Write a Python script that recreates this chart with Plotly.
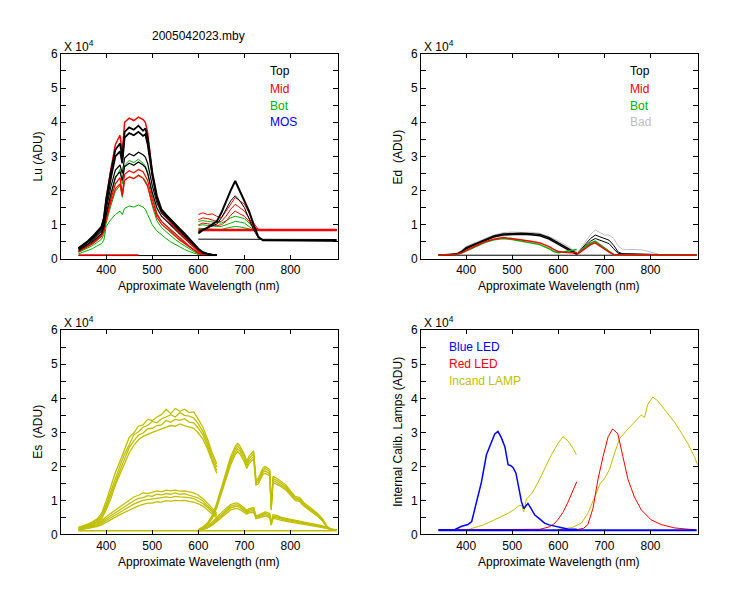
import plotly.graph_objects as go

# ---------------- data (values in units of 1e4 ADU, wavelength in nm) ----------------

# Lu panel, first spectrometer (340-640 nm)
wl_lu_a = [340, 350, 360, 370, 380, 390, 395, 400, 410, 420, 430, 435, 440, 450, 460, 470, 480,
           485, 490, 500, 510, 520, 530, 540, 550, 560, 570, 580, 590, 600, 610, 620, 630, 640]
lu_top_a1 = [0.32, 0.42, 0.52, 0.65, 0.80, 0.95, 1.20, 1.75, 2.55, 3.20, 3.38, 2.95, 3.72, 3.85, 3.78, 3.90, 3.75,
             3.82, 3.55, 2.55, 1.85, 1.45, 1.30, 1.15, 1.00, 0.88, 0.75, 0.60, 0.48, 0.30, 0.20, 0.15, 0.13, 0.12]
lu_top_a2 = [0.30, 0.40, 0.48, 0.60, 0.75, 0.90, 1.10, 1.60, 2.35, 3.00, 3.15, 2.80, 3.55, 3.68, 3.62, 3.72, 3.60,
             3.65, 3.35, 2.45, 1.78, 1.40, 1.25, 1.10, 0.95, 0.83, 0.70, 0.56, 0.44, 0.28, 0.18, 0.14, 0.12, 0.12]
lu_top_a3 = [0.28, 0.36, 0.44, 0.55, 0.68, 0.82, 1.00, 1.45, 2.10, 2.60, 2.75, 2.50, 2.95, 3.08, 3.02, 3.12, 3.05,
             2.98, 2.80, 2.15, 1.65, 1.35, 1.20, 1.05, 0.90, 0.78, 0.65, 0.52, 0.40, 0.26, 0.17, 0.13, 0.12, 0.12]
lu_top_a4 = [0.25, 0.33, 0.40, 0.50, 0.62, 0.75, 0.92, 1.30, 1.90, 2.40, 2.55, 2.30, 2.70, 2.80, 2.74, 2.84, 2.75,
             2.68, 2.50, 1.95, 1.50, 1.25, 1.12, 0.98, 0.85, 0.73, 0.60, 0.48, 0.37, 0.24, 0.16, 0.13, 0.12, 0.12]
lu_mid_a1 = [0.30, 0.40, 0.50, 0.62, 0.78, 0.95, 1.20, 1.75, 2.60, 3.35, 3.62, 3.10, 4.00, 4.12, 4.05, 4.15, 4.08,
             4.00, 3.70, 2.50, 1.75, 1.38, 1.22, 1.05, 0.90, 0.76, 0.62, 0.48, 0.35, 0.22, 0.15, 0.13, 0.12, 0.12]
lu_mid_a2 = [0.22, 0.30, 0.37, 0.46, 0.58, 0.70, 0.85, 1.20, 1.75, 2.20, 2.38, 1.90, 2.48, 2.58, 2.52, 2.62, 2.55,
             2.42, 2.30, 1.75, 1.30, 1.10, 0.98, 0.85, 0.72, 0.60, 0.50, 0.38, 0.28, 0.18, 0.14, 0.12, 0.12, 0.12]
lu_mid_a3 = [0.21, 0.28, 0.35, 0.44, 0.55, 0.66, 0.80, 1.12, 1.65, 2.05, 2.20, 1.85, 2.30, 2.40, 2.35, 2.44, 2.36,
             2.25, 2.12, 1.62, 1.22, 1.02, 0.90, 0.78, 0.66, 0.55, 0.45, 0.35, 0.26, 0.17, 0.13, 0.12, 0.12, 0.12]
lu_bot_a1 = [0.22, 0.30, 0.37, 0.46, 0.58, 0.70, 0.85, 1.25, 1.80, 2.35, 2.62, 2.20, 2.75, 2.88, 2.82, 2.92, 2.80,
             2.72, 2.55, 1.85, 1.35, 1.10, 0.95, 0.82, 0.70, 0.58, 0.47, 0.37, 0.27, 0.17, 0.13, 0.12, 0.12, 0.12]
lu_bot_a2 = [0.19, 0.25, 0.31, 0.39, 0.48, 0.58, 0.72, 1.05, 1.55, 1.98, 2.15, 1.80, 2.30, 2.40, 2.36, 2.46, 2.38,
             2.30, 2.15, 1.55, 1.12, 0.92, 0.80, 0.68, 0.57, 0.47, 0.38, 0.30, 0.22, 0.15, 0.13, 0.12, 0.12, 0.12]
lu_bot_a3 = [0.15, 0.20, 0.25, 0.30, 0.38, 0.45, 0.55, 0.95, 1.15, 1.30, 1.40, 1.30, 1.48, 1.55, 1.52, 1.58, 1.52,
             1.45, 1.30, 1.00, 0.82, 0.70, 0.60, 0.50, 0.42, 0.35, 0.28, 0.22, 0.17, 0.13, 0.12, 0.12, 0.12, 0.12]
lu_base_wl_a = [340, 640]
lu_top_base_a = [0.10, 0.10]
lu_mid_base_wl = [340, 470]
lu_mid_base_a = [0.12, 0.12]

# Lu panel, second spectrometer (600-900 nm)
wl_lu_b = [600, 610, 620, 630, 640, 650, 660, 670, 680, 690, 700, 710, 720, 730, 740, 760, 800, 850, 900]
lu_top_b1 = [0.75, 0.85, 0.92, 1.00, 1.10, 1.35, 1.70, 2.00, 2.28, 2.00, 1.72, 1.40, 1.00, 0.65, 0.55, 0.55, 0.55, 0.54, 0.53]
lu_top_b2 = [0.80, 0.85, 0.90, 0.95, 1.02, 1.20, 1.45, 1.70, 1.85, 1.70, 1.50, 1.20, 0.85, 0.62, 0.55, 0.55, 0.54, 0.54, 0.53]
lu_mid_b1 = [1.30, 1.35, 1.30, 1.32, 1.25, 1.20, 1.40, 1.60, 1.80, 1.70, 1.60, 1.35, 1.05, 0.87, 0.85, 0.85, 0.85, 0.85, 0.85]
lu_mid_b2 = [1.15, 1.20, 1.18, 1.15, 1.10, 1.10, 1.25, 1.45, 1.60, 1.50, 1.40, 1.20, 0.95, 0.86, 0.85, 0.85, 0.85, 0.85, 0.85]
lu_mid_b3 = [1.00, 1.05, 1.03, 1.00, 0.98, 1.00, 1.10, 1.28, 1.40, 1.32, 1.25, 1.10, 0.90, 0.85, 0.85, 0.85, 0.85, 0.85, 0.85]
lu_bot_b1 = [1.10, 1.12, 1.10, 1.08, 1.05, 1.05, 1.12, 1.20, 1.25, 1.22, 1.18, 1.05, 0.90, 0.85, 0.85, 0.85, 0.85, 0.85, 0.85]
lu_bot_b2 = [0.98, 1.00, 0.98, 0.96, 0.95, 0.95, 1.00, 1.06, 1.10, 1.08, 1.05, 0.95, 0.86, 0.85, 0.85, 0.85, 0.85, 0.85, 0.85]
lu_bot_b3 = [0.90, 0.90, 0.88, 0.87, 0.86, 0.86, 0.90, 0.93, 0.95, 0.94, 0.92, 0.88, 0.85, 0.85, 0.85, 0.85, 0.85, 0.85, 0.85]
lu_flat_wl_b = [600, 900]
lu_top_flat_b = [0.58, 0.57]
lu_mid_flat_b = [0.85, 0.85]

# Ed panel
wl_ed_a = [340, 360, 380, 390, 400, 420, 440, 460, 480, 500, 520, 540, 560, 580, 590, 600, 610, 620, 630, 640]
ed_bad_a = [0.12, 0.13, 0.17, 0.25, 0.37, 0.48, 0.60, 0.70, 0.77, 0.79, 0.78, 0.78, 0.75, 0.66, 0.60, 0.52, 0.45, 0.38, 0.28, 0.18]
ed_top_a1 = [0.12, 0.12, 0.15, 0.22, 0.33, 0.45, 0.57, 0.67, 0.73, 0.75, 0.75, 0.74, 0.72, 0.62, 0.55, 0.47, 0.40, 0.32, 0.24, 0.16]
ed_top_a2 = [0.12, 0.12, 0.14, 0.20, 0.30, 0.42, 0.54, 0.64, 0.70, 0.72, 0.72, 0.71, 0.68, 0.58, 0.50, 0.42, 0.35, 0.28, 0.20, 0.14]
ed_mid_a = [0.12, 0.12, 0.14, 0.18, 0.25, 0.38, 0.50, 0.58, 0.63, 0.60, 0.56, 0.52, 0.47, 0.36, 0.28, 0.22, 0.20, 0.18, 0.18, 0.19]
ed_bot_a = [0.12, 0.12, 0.13, 0.17, 0.23, 0.36, 0.48, 0.56, 0.60, 0.57, 0.52, 0.47, 0.42, 0.30, 0.22, 0.18, 0.20, 0.23, 0.26, 0.28]
wl_ed_b = [640, 650, 660, 670, 680, 690, 700, 710, 720, 730, 740, 750, 760, 780, 790, 800, 810, 820, 900]
ed_bad_b = [0.15, 0.35, 0.55, 0.72, 0.85, 0.78, 0.70, 0.70, 0.60, 0.38, 0.28, 0.28, 0.28, 0.27, 0.24, 0.20, 0.15, 0.13, 0.12]
ed_top_b1 = [0.13, 0.30, 0.45, 0.60, 0.70, 0.65, 0.60, 0.55, 0.40, 0.20, 0.15, 0.15, 0.15, 0.15, 0.15, 0.15, 0.15, 0.13, 0.12]
ed_top_b2 = [0.13, 0.25, 0.40, 0.52, 0.60, 0.55, 0.50, 0.45, 0.30, 0.16, 0.15, 0.15, 0.15, 0.15, 0.15, 0.14, 0.13, 0.12, 0.12]
ed_mid_b = [0.13, 0.22, 0.33, 0.42, 0.47, 0.38, 0.28, 0.20, 0.13, 0.12, 0.12, 0.12, 0.12, 0.12, 0.12, 0.12, 0.12, 0.12, 0.12]
ed_bot_b = [0.13, 0.25, 0.37, 0.46, 0.52, 0.42, 0.33, 0.22, 0.13, 0.12, 0.12, 0.12, 0.12, 0.12, 0.12, 0.12, 0.12, 0.12, 0.12]
ed_base_wl = [340, 900]
ed_base = [0.11, 0.11]

# Es panel
wl_es_a = [340, 360, 380, 390, 400, 410, 420, 430, 440, 450, 460, 470, 480, 490, 500, 510, 520, 530, 540,
           550, 560, 570, 580, 590, 600, 610, 620, 630, 640]
es_up_a1 = [0.21, 0.30, 0.45, 0.62, 0.98, 1.40, 1.82, 2.15, 2.52, 2.85, 2.98, 3.18, 3.22, 3.38, 3.35, 3.45, 3.52, 3.68, 3.55,
            3.70, 3.62, 3.68, 3.58, 3.60, 3.38, 3.15, 2.80, 2.40, 2.08]
es_up_a2 = [0.20, 0.28, 0.42, 0.55, 0.88, 1.28, 1.68, 2.02, 2.36, 2.65, 2.92, 3.02, 3.15, 3.20, 3.32, 3.28, 3.40, 3.45, 3.52,
            3.45, 3.58, 3.50, 3.48, 3.42, 3.25, 3.02, 2.70, 2.30, 1.98]
es_up_a3 = [0.19, 0.26, 0.38, 0.50, 0.80, 1.18, 1.55, 1.88, 2.22, 2.55, 2.75, 2.92, 2.98, 3.10, 3.12, 3.20, 3.22, 3.35, 3.30,
            3.38, 3.35, 3.40, 3.30, 3.28, 3.12, 2.92, 2.60, 2.20, 1.88]
es_up_a4 = [0.18, 0.24, 0.35, 0.45, 0.72, 1.05, 1.45, 1.78, 2.10, 2.40, 2.62, 2.78, 2.88, 2.95, 3.00, 3.05, 3.10, 3.15, 3.20,
            3.18, 3.25, 3.20, 3.15, 3.12, 2.98, 2.80, 2.50, 2.12, 1.80]
es_lo_a1 = [0.16, 0.22, 0.32, 0.40, 0.52, 0.62, 0.72, 0.82, 0.92, 1.02, 1.10, 1.15, 1.22, 1.20, 1.25, 1.28, 1.25, 1.30, 1.28,
            1.30, 1.27, 1.28, 1.25, 1.22, 1.15, 1.05, 0.92, 0.78, 0.62]
es_lo_a2 = [0.15, 0.20, 0.29, 0.36, 0.46, 0.55, 0.65, 0.74, 0.83, 0.92, 0.99, 1.06, 1.08, 1.14, 1.12, 1.18, 1.16, 1.20, 1.18,
            1.22, 1.18, 1.20, 1.16, 1.13, 1.07, 0.98, 0.85, 0.72, 0.57]
es_lo_a3 = [0.14, 0.18, 0.26, 0.32, 0.41, 0.49, 0.58, 0.66, 0.74, 0.82, 0.89, 0.95, 1.00, 1.02, 1.05, 1.06, 1.08, 1.10, 1.08,
            1.12, 1.10, 1.10, 1.08, 1.05, 0.99, 0.91, 0.79, 0.66, 0.53]
es_lo_a4 = [0.13, 0.17, 0.23, 0.28, 0.36, 0.43, 0.51, 0.58, 0.65, 0.72, 0.79, 0.84, 0.88, 0.92, 0.92, 0.96, 0.95, 0.99, 0.98,
            1.00, 0.99, 1.00, 0.97, 0.95, 0.90, 0.83, 0.72, 0.60, 0.48]
wl_es_b = [600, 610, 620, 630, 640, 650, 660, 670, 680, 685, 690, 700, 705, 710, 720, 725, 730, 740, 745,
           750, 755, 758, 762, 770, 780, 790, 800, 810, 820, 830, 840, 850, 860, 870, 880, 890, 900]
es_up_b1 = [0.14, 0.22, 0.34, 0.55, 0.92, 1.38, 1.80, 2.28, 2.58, 2.68, 2.60, 2.35, 2.15, 2.30, 2.45, 1.60, 1.65, 1.95, 2.00,
            1.95, 1.90, 0.80, 1.70, 1.65, 1.55, 1.45, 1.28, 1.12, 1.08, 0.92, 0.82, 0.72, 0.60, 0.45, 0.22, 0.14, 0.14]
es_up_b2 = [0.13, 0.21, 0.32, 0.52, 0.88, 1.32, 1.72, 2.20, 2.50, 2.60, 2.52, 2.28, 2.08, 2.22, 2.38, 1.55, 1.60, 1.88, 1.94,
            1.89, 1.84, 0.77, 1.64, 1.59, 1.50, 1.40, 1.24, 1.08, 1.04, 0.88, 0.78, 0.68, 0.57, 0.42, 0.20, 0.13, 0.13]
es_up_b3 = [0.13, 0.20, 0.30, 0.49, 0.83, 1.26, 1.65, 2.12, 2.42, 2.52, 2.45, 2.20, 2.01, 2.15, 2.30, 1.50, 1.54, 1.82, 1.87,
            1.83, 1.78, 0.74, 1.58, 1.53, 1.45, 1.35, 1.19, 1.04, 1.00, 0.85, 0.75, 0.65, 0.54, 0.40, 0.19, 0.13, 0.13]
es_up_b4 = [0.12, 0.19, 0.29, 0.46, 0.78, 1.20, 1.58, 2.04, 2.34, 2.44, 2.37, 2.12, 1.94, 2.08, 2.22, 1.45, 1.48, 1.76, 1.80,
            1.76, 1.72, 0.71, 1.52, 1.47, 1.40, 1.30, 1.14, 1.00, 0.96, 0.82, 0.72, 0.62, 0.52, 0.38, 0.18, 0.13, 0.13]
es_lo_b1 = [0.13, 0.17, 0.24, 0.36, 0.50, 0.64, 0.77, 0.88, 0.92, 0.92, 0.88, 0.78, 0.70, 0.76, 0.79, 0.55, 0.57, 0.64, 0.66,
            0.64, 0.61, 0.33, 0.58, 0.56, 0.50, 0.47, 0.45, 0.41, 0.39, 0.36, 0.34, 0.30, 0.28, 0.25, 0.20, 0.15, 0.14]
es_lo_b2 = [0.12, 0.16, 0.22, 0.33, 0.46, 0.59, 0.72, 0.83, 0.87, 0.87, 0.84, 0.74, 0.67, 0.72, 0.75, 0.52, 0.54, 0.60, 0.62,
            0.60, 0.57, 0.31, 0.54, 0.52, 0.47, 0.44, 0.42, 0.39, 0.37, 0.34, 0.32, 0.28, 0.26, 0.23, 0.19, 0.14, 0.13]
es_lo_b3 = [0.12, 0.15, 0.20, 0.30, 0.42, 0.55, 0.67, 0.78, 0.82, 0.82, 0.79, 0.70, 0.63, 0.68, 0.70, 0.49, 0.51, 0.56, 0.58,
            0.56, 0.53, 0.29, 0.51, 0.49, 0.44, 0.41, 0.39, 0.36, 0.34, 0.32, 0.30, 0.26, 0.24, 0.21, 0.18, 0.14, 0.13]
es_lo_b4 = [0.12, 0.14, 0.19, 0.27, 0.38, 0.50, 0.62, 0.72, 0.76, 0.76, 0.73, 0.65, 0.59, 0.63, 0.65, 0.46, 0.48, 0.52, 0.54,
            0.52, 0.49, 0.27, 0.47, 0.45, 0.41, 0.38, 0.36, 0.34, 0.32, 0.30, 0.28, 0.25, 0.23, 0.20, 0.17, 0.13, 0.12]
es_base_wl = [340, 900]
es_base = [0.11, 0.11]

# Internal calibration lamps panel
wl_blue_a = [340, 375, 390, 404, 412, 426, 433, 444, 455, 462, 469, 476, 484, 491, 497, 502, 508, 513,
             520, 525, 530, 534, 540, 549, 560, 570, 580, 592, 606, 620, 640]
blue_led_a = [0.13, 0.14, 0.24, 0.29, 0.38, 1.15, 1.53, 2.34, 2.72, 2.95, 3.03, 2.85, 2.58, 2.05, 2.02, 1.96, 1.80, 1.43,
              0.96, 0.76, 0.86, 0.91, 0.78, 0.57, 0.45, 0.33, 0.28, 0.24, 0.19, 0.16, 0.15]
wl_red_a = [340, 560, 580, 590, 600, 610, 620, 630, 640]
red_led_a = [0.13, 0.15, 0.22, 0.30, 0.45, 0.65, 0.92, 1.22, 1.55]
wl_red_b = [600, 640, 655, 664, 675, 686, 697, 708, 718, 729, 740, 751, 765, 780, 801, 823, 852, 881, 900]
red_led_b = [0.13, 0.14, 0.18, 0.29, 0.76, 1.62, 2.29, 2.87, 3.10, 2.96, 2.29, 1.62, 1.10, 0.72, 0.43, 0.29, 0.19, 0.16, 0.13]
wl_lamp_a = [380, 404, 440, 469, 484, 491, 505, 513, 520, 525, 531, 542, 556, 570, 585, 599, 610, 621, 632, 639]
lamp_a = [0.13, 0.14, 0.29, 0.48, 0.57, 0.62, 0.74, 0.83, 0.86, 0.67, 1.05, 1.19, 1.53, 1.91, 2.34, 2.67, 2.87, 2.75, 2.53, 2.34]
wl_lamp_b = [600, 630, 650, 664, 679, 690, 700, 711, 722, 733, 751, 765, 780, 787, 794, 805, 816, 830,
             852, 866, 881, 895, 902]
lamp_b = [0.15, 0.20, 0.33, 0.62, 1.10, 1.48, 1.64, 1.91, 2.39, 2.82, 3.10, 3.30, 3.51, 3.44, 3.82, 4.04, 3.92, 3.68,
          3.30, 3.00, 2.67, 2.29, 2.05]
blue_base_wl = [340, 900]
blue_base = [0.12, 0.12]

BLACK = "#000000"
RED = "#FF0000"
GREEN = "#00B000"
BLUE = "#0000FF"
GREY = "#BEBEBE"
OLIVE = "#BFBF00"

W, H = 750, 600
FONT = "Liberation Sans, Arial, sans-serif"

fig = go.Figure()


def add(x, y, color, ax, width=1):
    fig.add_trace(go.Scatter(x=x, y=y, mode="lines", line=dict(color=color, width=width),
                             xaxis="x" + ax, yaxis="y" + ax, showlegend=False, hoverinfo="skip"))


# panel 1: Lu
for y in [lu_bot_a1, lu_bot_a2, lu_bot_a3]:
    add(wl_lu_a, y, GREEN, "")
for y in [lu_mid_a2, lu_mid_a3]:
    add(wl_lu_a, y, RED, "", 1.2)
for y in [lu_top_a3, lu_top_a4]:
    add(wl_lu_a, y, BLACK, "", 1.2)
add(wl_lu_a, lu_mid_a1, RED, "", 1.5)
for y in [lu_top_a1, lu_top_a2]:
    add(wl_lu_a, y, BLACK, "", 1.8)
add(lu_base_wl_a, lu_top_base_a, BLACK, "")
add(lu_mid_base_wl, lu_mid_base_a, RED, "", 1.5)
for y in [lu_bot_b1, lu_bot_b2, lu_bot_b3]:
    add(wl_lu_b, y, GREEN, "")
for y in [lu_mid_b1, lu_mid_b2, lu_mid_b3]:
    add(wl_lu_b, y, RED, "")
add(lu_flat_wl_b, lu_mid_flat_b, RED, "", 2.5)
add(lu_flat_wl_b, lu_top_flat_b, BLACK, "")
add(wl_lu_b, lu_top_b2, BLACK, "")
add(wl_lu_b, lu_top_b1, BLACK, "", 2)

# panel 2: Ed
add(ed_base_wl, ed_base, BLACK, "2")
add(wl_ed_a, ed_bad_a, GREY, "2")
add(wl_ed_b, ed_bad_b, GREY, "2")
for y in [ed_top_a1, ed_top_a2]:
    add(wl_ed_a, y, BLACK, "2", 1.5)
for y in [ed_top_b1, ed_top_b2]:
    add(wl_ed_b, y, BLACK, "2")
add(wl_ed_a, ed_bot_a, GREEN, "2", 1.5)
add(wl_ed_b, ed_bot_b, GREEN, "2", 1.5)
add(wl_ed_a, ed_mid_a, RED, "2", 1.5)
add(wl_ed_b, ed_mid_b, RED, "2", 1.5)

# panel 3: Es
add(es_base_wl, es_base, OLIVE, "3", 1.5)
for y in [es_up_a1, es_up_a2, es_up_a3, es_up_a4, es_lo_a1, es_lo_a2, es_lo_a3, es_lo_a4]:
    add(wl_es_a, y, OLIVE, "3", 1.3)
for y in [es_up_b1, es_up_b2, es_up_b3, es_up_b4, es_lo_b1, es_lo_b2, es_lo_b3, es_lo_b4]:
    add(wl_es_b, y, OLIVE, "3", 1.3)

# panel 4: calibration lamps
add(wl_lamp_a, lamp_a, OLIVE, "4")
add(wl_lamp_b, lamp_b, OLIVE, "4")
add(wl_red_a, red_led_a, RED, "4")
add(wl_red_b, red_led_b, RED, "4")
add(wl_blue_a, blue_led_a, BLUE, "4", 1.5)
add(blue_base_wl, blue_base, BLUE, "4", 2)

# ---------------- layout ----------------
panels = {"": (61, 338, 48, 258), "2": (421, 698, 48, 258),
          "3": (61, 338, 331, 540), "4": (421, 698, 331, 540)}

axis_common = dict(showline=True, linecolor=BLACK, linewidth=1, mirror="ticks", ticks="inside",
                   tickcolor=BLACK, showgrid=False, zeroline=False,
                   tickfont=dict(family=FONT, size=12, color=BLACK))
layout = {}
for key, (x0, x1, y0, y1) in panels.items():
    layout["xaxis" + key] = dict(axis_common, domain=[x0 / W, x1 / W], range=[302, 903],
                                 tickvals=[400, 500, 600, 700, 800], ticklen=4,
                                 anchor="y" + key)
    layout["yaxis" + key] = dict(axis_common, domain=[1 - y1 / H, 1 - y0 / H], range=[0, 6],
                                 tickvals=[0, 1, 2, 3, 4, 5, 6], ticklen=5, anchor="x" + key,
                                 minor=dict(dtick=0.5, ticks="inside", ticklen=5, tickcolor=BLACK))


def note(text, x, y, color=BLACK, angle=0, xanchor="center"):
    return dict(text=text, x=x / W, y=1 - y / H, xref="paper", yref="paper", showarrow=False,
                xanchor=xanchor, yanchor="middle", textangle=angle,
                font=dict(family=FONT, size=12, color=color))


annotations = [
    note("2005042023.mby", 199, 30),
    note("Top", 268, 66, BLACK, xanchor="left"),
    note("Mid", 268, 84, RED, xanchor="left"),
    note("Bot", 268, 101, GREEN, xanchor="left"),
    note("MOS", 268, 118, BLUE, xanchor="left"),
    note("Top", 628, 66, BLACK, xanchor="left"),
    note("Mid", 628, 84, RED, xanchor="left"),
    note("Bot", 628, 101, GREEN, xanchor="left"),
    note("Bad", 628, 118, GREY, xanchor="left"),
    note("Blue LED", 447, 348, BLUE, xanchor="left"),
    note("Red LED", 447, 366, RED, xanchor="left"),
    note("Incand LAMP", 447, 383, OLIVE, xanchor="left"),
    note("Lu (ADU)", 38, 153, angle=-90),
    note("Ed  (ADU)", 398, 153, angle=-90),
    note("Es  (ADU)", 38, 435, angle=-90),
    note("Internal Calib. Lamps (ADU)", 398, 435, angle=-90),
    note("Approximate Wavelength (nm)", 199, 286),
    note("Approximate Wavelength (nm)", 559, 286),
    note("Approximate Wavelength (nm)", 199, 568),
    note("Approximate Wavelength (nm)", 559, 568),
]
for px, py in [(62, 40), (422, 40), (62, 323), (422, 323)]:
    annotations.append(note("X 10<sup>4</sup>", px, py, xanchor="left"))

fig.update_layout(width=W, height=H, margin=dict(l=0, r=0, t=0, b=0),
                  paper_bgcolor="white", plot_bgcolor="white",
                  font=dict(family=FONT, size=12, color=BLACK),
                  annotations=annotations, **layout)

# drop the default page margin so the figure sits at the window origin
fig.write_html("out.html", config={"displayModeBar": False},
               post_script="document.body.style.margin='0px';")
